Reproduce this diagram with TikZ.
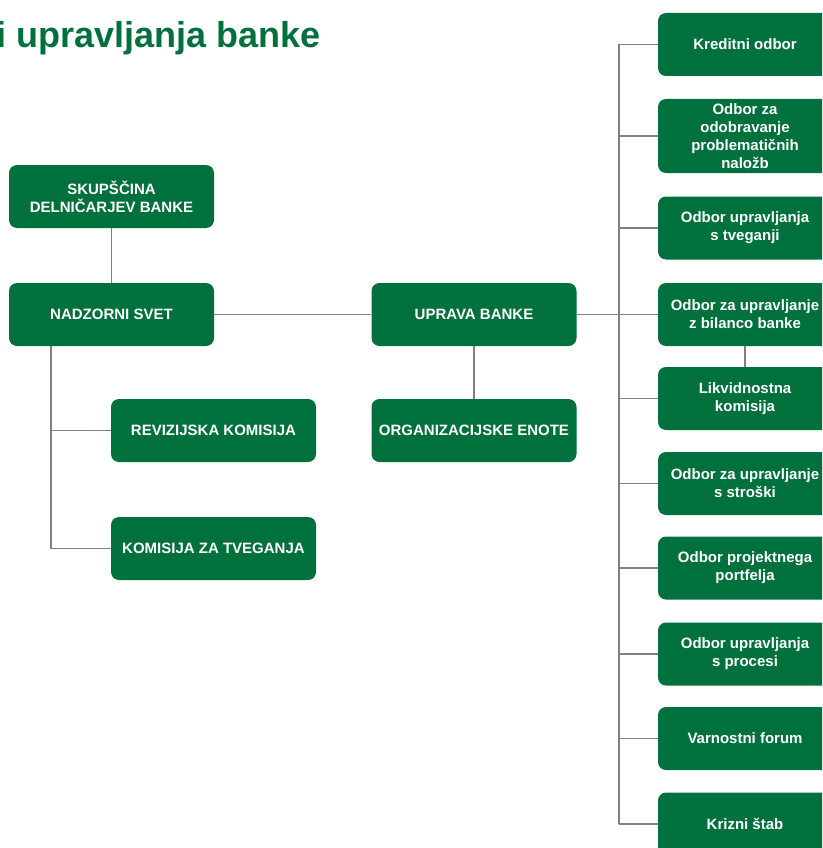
\documentclass[tikz,border=0pt]{standalone}
\usepackage{fontspec}
\setmainfont{Liberation Sans}
\usepackage{tikz}
\definecolor{bankgreen}{RGB}{0,112,60}
\definecolor{linegray}{RGB}{128,128,128}
\tikzstyle{unit}=[rectangle,rounded corners=8pt,fill=bankgreen,text=white,font=\bfseries\fontsize{15}{18}\selectfont,align=center,minimum width=205pt,minimum height=63pt,inner sep=2pt]
\tikzstyle{board}=[unit,minimum width=174pt]
\tikzstyle{link} = [draw=linegray,line width=1.4pt]
\tikzstyle{heading} = [font=\bfseries\fontsize{36}{40}\selectfont,text=bankgreen,inner sep=0pt,anchor=base west]

\begin{document}
\begin{tikzpicture}[x=1pt, y=-1pt, auto,swap]

  \useasboundingbox (0,0) rectangle (822,848);
  \clip (0,0) rectangle (822,848);

   \node[heading] (title) at (-4,48) {i upravljanja banke};

   \foreach \x/\y/\name/\label in {111.5/196.5/skup/{SKUPŠČINA\\DELNIČARJEV BANKE}, 111.5/314.5/nadzor/{NADZORNI SVET}, 474/314.5/uprava/{UPRAVA BANKE}, 474/430.5/enote/{ORGANIZACIJSKE ENOTE}, 213.5/430.5/revizija/{REVIZIJSKA KOMISIJA}, 213.5/548.5/tveganja/{KOMISIJA ZA TVEGANJA}}
          \node[unit] (\name) at (\x,\y) {\label};

   % odbori na desni
   \foreach \y/\h/\name/\label in {44.5/63/kredit/{Kreditni odbor}, 136/74/nalozbe/{Odbor za\\odobravanje\\problematičnih\\naložb}, 228/63/tveganje/{Odbor upravljanja\\s tveganji}, 314.5/63/bilanca/{Odbor za upravljanje\\z bilanco banke}, 398.5/63/likvid/{Likvidnostna\\komisija}, 483.5/63/stroski/{Odbor za upravljanje\\s stroški}, 568/63/portfelj/{Odbor projektnega\\portfelja}, 654/63/procesi/{Odbor upravljanja\\s procesi}, 738.5/63/forum/{Varnostni forum}, 824/63/stab/{Krizni štab}}
          \node[board,minimum height=\h] (\name) at (745,\y) {\label};

   \coordinate (ltrunk) at (51,346);
   \coordinate (rtrunk) at (619,44.5);

   \path[link] (skup) -- (nadzor);
   \path[link] (nadzor) -- (uprava);
   \path[link] (uprava) -- (enote);
   \path[link] (bilanca) -- (likvid);

   \foreach \dest in {revizija,tveganja}
         \path[link] (ltrunk) |- (\dest.west);

   \path[link] (uprava.east) -- (uprava.east -| rtrunk);
   \path[link] (rtrunk) -- (rtrunk |- stab.west);
   \foreach \dest in {kredit,nalozbe,tveganje,bilanca,likvid,stroski,portfelj,procesi,forum,stab}
         \path[link] (rtrunk |- \dest.west) -- (\dest.west);

\end{tikzpicture}
\end{document}
